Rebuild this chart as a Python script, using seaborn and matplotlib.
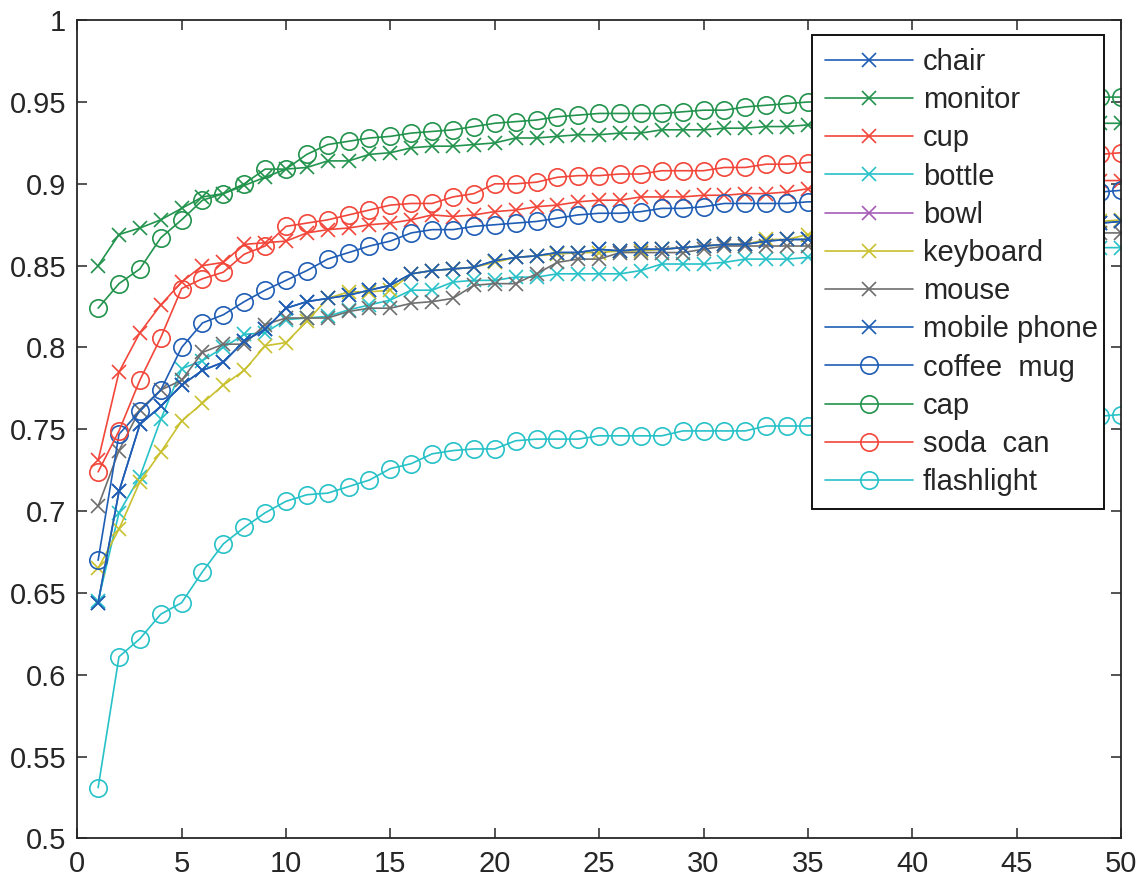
import numpy as np
import seaborn as sns
import matplotlib
matplotlib.use("Agg")
from matplotlib import pyplot as plt

# number of retrieved items (1..50)
k = list(range(1, 51))

chair = [0.644, 0.712, 0.753, 0.764, 0.777, 0.786, 0.791, 0.804, 0.811, 0.824,
         0.828, 0.830, 0.832, 0.835, 0.838, 0.845, 0.847, 0.848, 0.849, 0.853,
         0.855, 0.856, 0.858, 0.858, 0.860, 0.859, 0.860, 0.860, 0.861, 0.862,
         0.863, 0.863, 0.865, 0.866, 0.866, 0.867, 0.867, 0.868, 0.868, 0.869,
         0.870, 0.870, 0.871, 0.872, 0.872, 0.873, 0.874, 0.875, 0.876, 0.877]
monitor = [0.850, 0.869, 0.873, 0.878, 0.885, 0.892, 0.894, 0.899, 0.904, 0.909,
           0.910, 0.914, 0.914, 0.918, 0.919, 0.922, 0.923, 0.923, 0.924, 0.925,
           0.928, 0.928, 0.929, 0.930, 0.930, 0.931, 0.931, 0.933, 0.933, 0.933,
           0.934, 0.934, 0.935, 0.935, 0.936, 0.936, 0.936, 0.936, 0.936, 0.936,
           0.937, 0.937, 0.937, 0.937, 0.937, 0.937, 0.937, 0.937, 0.937, 0.937]
cup = [0.731, 0.785, 0.809, 0.826, 0.840, 0.850, 0.852, 0.863, 0.864, 0.865,
       0.870, 0.872, 0.873, 0.875, 0.876, 0.878, 0.881, 0.880, 0.881, 0.883,
       0.884, 0.886, 0.887, 0.889, 0.890, 0.890, 0.892, 0.892, 0.892, 0.893,
       0.893, 0.894, 0.894, 0.895, 0.897, 0.898, 0.898, 0.898, 0.899, 0.899,
       0.899, 0.900, 0.900, 0.900, 0.901, 0.901, 0.901, 0.902, 0.902, 0.902]
bottle = [0.645, 0.699, 0.721, 0.756, 0.787, 0.792, 0.800, 0.808, 0.809, 0.817,
          0.818, 0.819, 0.823, 0.826, 0.829, 0.835, 0.835, 0.840, 0.841, 0.841,
          0.843, 0.843, 0.845, 0.845, 0.845, 0.845, 0.847, 0.851, 0.851, 0.851,
          0.852, 0.854, 0.854, 0.854, 0.855, 0.855, 0.855, 0.856, 0.856, 0.857,
          0.857, 0.857, 0.858, 0.858, 0.859, 0.859, 0.860, 0.861, 0.861, 0.861]
bowl = [np.nan] * 50  # listed in the legend only, no curve visible
keyboard = [0.665, 0.689, 0.718, 0.736, 0.755, 0.766, 0.777, 0.786, 0.801, 0.803,
            0.816, 0.830, 0.834, 0.834, 0.835, 0.845, 0.847, 0.848, 0.849, 0.852,
            0.855, 0.856, 0.857, 0.858, 0.858, 0.859, 0.859, 0.860, 0.861, 0.862,
            0.863, 0.863, 0.866, 0.866, 0.869, 0.870, 0.870, 0.871, 0.871, 0.872,
            0.872, 0.873, 0.874, 0.874, 0.875, 0.876, 0.876, 0.877, 0.877, 0.878]
mouse = [0.703, 0.737, 0.762, 0.774, 0.780, 0.797, 0.802, 0.802, 0.814, 0.818,
         0.818, 0.818, 0.822, 0.824, 0.824, 0.827, 0.828, 0.830, 0.838, 0.839,
         0.839, 0.845, 0.852, 0.854, 0.854, 0.858, 0.858, 0.858, 0.858, 0.860,
         0.862, 0.862, 0.862, 0.862, 0.862, 0.862, 0.862, 0.863, 0.863, 0.864,
         0.864, 0.865, 0.866, 0.866, 0.867, 0.868, 0.869, 0.870, 0.870, 0.870]
mobile_phone = list(chair)
coffee_mug = [0.670, 0.747, 0.761, 0.774, 0.800, 0.815, 0.820, 0.828, 0.835, 0.841,
              0.847, 0.854, 0.858, 0.862, 0.865, 0.870, 0.872, 0.872, 0.874, 0.875,
              0.876, 0.877, 0.879, 0.881, 0.882, 0.882, 0.883, 0.885, 0.885, 0.886,
              0.888, 0.888, 0.888, 0.888, 0.889, 0.889, 0.890, 0.890, 0.891, 0.891,
              0.892, 0.892, 0.893, 0.893, 0.894, 0.894, 0.894, 0.895, 0.895, 0.896]
cap = [0.824, 0.839, 0.848, 0.867, 0.878, 0.890, 0.894, 0.900, 0.909, 0.909,
       0.918, 0.924, 0.926, 0.928, 0.929, 0.931, 0.932, 0.933, 0.935, 0.937,
       0.938, 0.939, 0.941, 0.942, 0.943, 0.943, 0.943, 0.943, 0.944, 0.945,
       0.945, 0.947, 0.948, 0.949, 0.950, 0.950, 0.950, 0.950, 0.951, 0.951,
       0.951, 0.951, 0.952, 0.952, 0.952, 0.952, 0.952, 0.953, 0.953, 0.953]
soda_can = [0.724, 0.749, 0.780, 0.806, 0.836, 0.842, 0.846, 0.857, 0.862, 0.874,
            0.876, 0.878, 0.881, 0.884, 0.887, 0.888, 0.888, 0.892, 0.894, 0.900,
            0.900, 0.901, 0.904, 0.905, 0.905, 0.906, 0.906, 0.908, 0.908, 0.908,
            0.910, 0.910, 0.912, 0.912, 0.913, 0.914, 0.914, 0.915, 0.915, 0.915,
            0.916, 0.916, 0.916, 0.917, 0.917, 0.917, 0.918, 0.918, 0.918, 0.919]
flashlight = [0.531, 0.611, 0.622, 0.637, 0.644, 0.663, 0.680, 0.690, 0.699, 0.706,
              0.710, 0.711, 0.715, 0.719, 0.726, 0.729, 0.735, 0.737, 0.738, 0.738,
              0.743, 0.744, 0.744, 0.744, 0.746, 0.746, 0.746, 0.746, 0.749, 0.749,
              0.749, 0.749, 0.752, 0.752, 0.752, 0.753, 0.753, 0.754, 0.754, 0.754,
              0.755, 0.755, 0.756, 0.756, 0.757, 0.757, 0.758, 0.758, 0.758, 0.759]

blue = "#1f5db5"
green = "#22934c"
red = "#f2463a"
cyan = "#27c1c8"
magenta = "#a55cb5"
yellow = "#c9c02e"
gray = "#6e6e6e"

series = [
    ("chair", chair, blue, "x"),
    ("monitor", monitor, green, "x"),
    ("cup", cup, red, "x"),
    ("bottle", bottle, cyan, "x"),
    ("bowl", bowl, magenta, "x"),
    ("keyboard", keyboard, yellow, "x"),
    ("mouse", mouse, gray, "x"),
    ("mobile phone", mobile_phone, blue, "x"),
    ("coffee  mug", coffee_mug, blue, "o"),
    ("cap", cap, green, "o"),
    ("soda  can", soda_can, red, "o"),
    ("flashlight", flashlight, cyan, "o"),
]

sns.set_style("ticks")
plt.rcParams["font.family"] = ["Liberation Sans", "DejaVu Sans"]

fig = plt.figure(figsize=(11.36, 8.77), dpi=100)
ax = fig.add_axes([0.068, 0.044, 0.9188, 0.933])

for name, vals, col, mk in series:
    style = dict(color=col, linewidth=1.2, marker=mk, markeredgecolor=col,
                 label=name)
    if mk == "o":
        style.update(markersize=12.5, markerfacecolor="none", markeredgewidth=1.2)
    else:
        style.update(markersize=10, markeredgewidth=1.2)
    if np.all(np.isnan(vals)):
        ax.plot(k, vals, **style)
    else:
        sns.lineplot(x=k, y=vals, ax=ax, **style)

ax.set_xlim(0, 50)
ax.set_ylim(0.5, 1.0)
ax.set_xticks(range(0, 51, 5))
ax.set_yticks(np.arange(0.5, 1.0001, 0.05))
ax.set_yticklabels(["0.5", "0.55", "0.6", "0.65", "0.7", "0.75", "0.8",
                    "0.85", "0.9", "0.95", "1"])
ax.tick_params(direction="in", length=7, width=1.1, top=True, right=True,
               labelsize=21, colors="#262626", pad=8)
for s in ax.spines.values():
    s.set_visible(True)
    s.set_linewidth(1.3)
    s.set_color("#262626")
ax.set_xlabel("")
ax.set_ylabel("")

leg = ax.legend(loc="upper left", bbox_to_anchor=(0.704, 0.40, 0.2798, 0.582),
                mode="expand", fontsize=21,
                frameon=True, fancybox=False, framealpha=1, edgecolor="#111111",
                handlelength=3.0, handletextpad=0.35, labelspacing=0.35,
                borderpad=0.45, borderaxespad=0)
leg.get_frame().set_linewidth(1.4)

fig.savefig("out.png", dpi=100)
